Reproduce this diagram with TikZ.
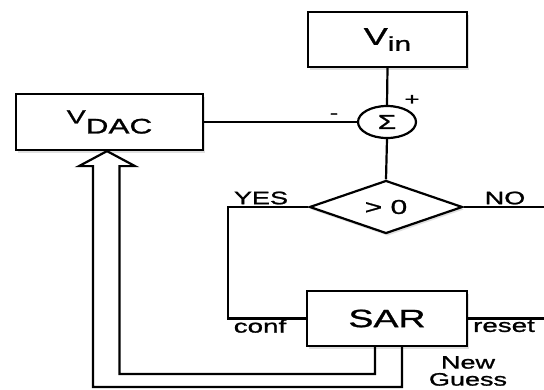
\documentclass[tikz,border=0pt]{standalone}
\usepackage{fontspec}
\setmainfont{Liberation Sans}[FakeStretch=1.5, FakeBold=1.2]
\usetikzlibrary{shapes.geometric,shadows,calc}
\newcommand{\fs}[1]{\fontsize{#1}{#1}\selectfont}
\begin{document}
\begin{tikzpicture}[x=1pt,y=-1pt,
  line width=2.2pt,
  shad/.style={drop shadow={opacity=0.25, shadow xshift=1.5pt, shadow yshift=-2.5pt}},
  blk/.style={draw, rectangle, fill=white, inner sep=0pt, shad},
  lbl/.style={inner sep=0pt}]
\useasboundingbox (0,0) rectangle (544,389);
\fill[white] (0,0) rectangle (544,389);
\coordinate (edge) at (544,0);
\coordinate (ob) at (0,387);
\coordinate (ib) at (0,374);

\node[blk, minimum width=159pt, minimum height=55pt] (vin) at (387.5,39.5)
  {\fs{24}V\raisebox{-6pt}{\fs{20}in}};
\node[blk, minimum width=187pt, minimum height=56pt] (vdac) at (109.5,122)
  {\fs{19}\raisebox{5pt}{V}\raisebox{-5pt}{\fs{21}DAC}};
\node[draw, ellipse, fill=white, inner sep=0pt, minimum width=58pt, minimum height=32pt] (sum) at (387,122)
  {\fs{20}Σ};
\node[draw, diamond, aspect=2.9, fill=white, inner sep=0pt, minimum width=153pt, minimum height=53pt, shad] (dia) at (386,207)
  {\fs{20}> 0};
\node[blk, minimum width=160pt, minimum height=55pt] (sar) at (387,318.5)
  {\fs{25}SAR};

\draw (vin.south) -- (sum.north);
\draw (vdac.east) -- (sum.west);
\draw (sum.south) -- (dia.north);
\coordinate (ycol) at (228,0);
\draw (dia.west) -| (ycol |- sar.west) -- (sar.west);
\draw (dia.east) -- (dia.east -| edge);
\draw (sar.east) -- (sar.east -| edge);

\coordinate (tip) at ($(vdac.south)+(-2.5,0)$);
\coordinate (ia) at ($(sar.south)+(-12,0)$);
\coordinate (oa) at ($(sar.south)+(15,0)$);
\coordinate (hl) at ($(tip)+(-28,15)$);
\coordinate (hr) at ($(tip)+(28,15)$);
\coordinate (sl) at ($(tip)+(-14,15)$);
\coordinate (sr) at ($(tip)+(12.5,15)$);
\draw[line join=miter] (oa) -- (oa |- ob) -- (sl |- ob) -- (sl) -- (hl) -- (tip)
  -- (hr) -- (sr) -- (sr |- ib) -- (ia |- ib) -- (ia);

\node[lbl] (minus) at (334,116) {\fs{17}-};
\node[lbl] (plus) at (412,100) {\fs{17}+};
\node[lbl] (yes) at (261,198) {\fs{18}YES};
\node[lbl] (no) at (505,198) {\fs{18}NO};
\node[lbl] (conf) at (260,326) {\fs{18.5}conf};
\node[lbl] (reset) at (504,326) {\fs{18.5}reset};
\node[lbl, align=center, font=\fontsize{18}{17}\selectfont] (guess) at (468,371)
  {New\\Guess};
\end{tikzpicture}
\end{document}
